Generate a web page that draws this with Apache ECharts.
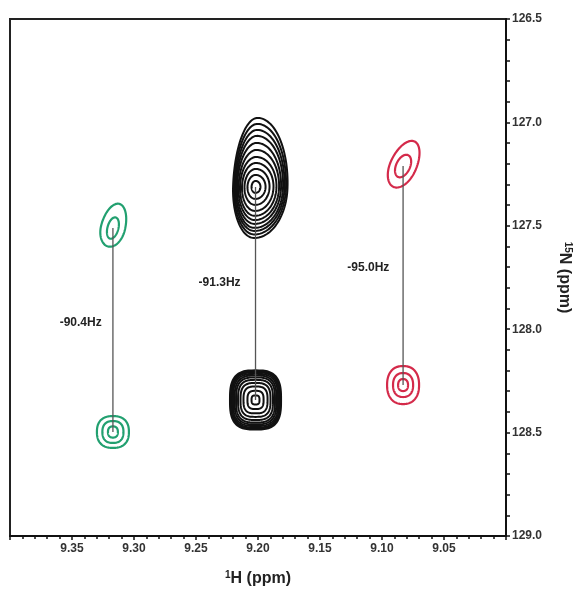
<!DOCTYPE html>
<html>
<head>
<meta charset="utf-8">
<script src="https://cdn.jsdelivr.net/npm/echarts@6/dist/echarts.min.js"></script>
<style>
  html, body { margin: 0; padding: 0; background: #fff; }
  #main { width: 587px; height: 589px; }
</style>
</head>
<body>
<div id="main"></div>
<script>
// axis ranges / ticks
const hRange = [9.00, 9.40]
const nRange = [126.5, 129.0]

// peak centres (1H ppm, 15N ppm)
const peakH = [9.317, 9.317, 9.202, 9.202, 9.083, 9.083]
const peakN = [127.511, 128.497, 127.312, 128.342, 127.211, 128.270]
const peakColor = ['green', 'green', 'black', 'black', 'red', 'red']

// contour rings per peak: [left, right, top, bottom] half widths in ppm
const peakRings = [
    [[0.0044, 0.0044, 0.053, 0.053], [0.0097, 0.0097, 0.121, 0.092]],
    [[0.0040, 0.0040, 0.027, 0.027], [0.0085, 0.0085, 0.053, 0.053], [0.0129, 0.0129, 0.077, 0.077]],
    [[0.0032, 0.0040, 0.029, 0.029], [0.0065, 0.0081, 0.058, 0.058], [0.0089, 0.0113, 0.087, 0.087],
     [0.0109, 0.0145, 0.116, 0.116], [0.0125, 0.0169, 0.145, 0.140], [0.0137, 0.0190, 0.179, 0.160],
     [0.0149, 0.0206, 0.213, 0.179], [0.0157, 0.0222, 0.247, 0.198], [0.0165, 0.0234, 0.276, 0.213],
     [0.0173, 0.0246, 0.305, 0.230], [0.0181, 0.0258, 0.334, 0.247]],
    [[0.0032, 0.0032, 0.022, 0.022], [0.0065, 0.0065, 0.044, 0.044], [0.0097, 0.0097, 0.065, 0.065],
     [0.0121, 0.0121, 0.082, 0.082], [0.0141, 0.0141, 0.097, 0.097], [0.0157, 0.0157, 0.109, 0.109],
     [0.0169, 0.0169, 0.118, 0.118], [0.0181, 0.0181, 0.126, 0.126], [0.0190, 0.0190, 0.133, 0.133],
     [0.0198, 0.0198, 0.138, 0.138], [0.0206, 0.0206, 0.143, 0.143]],
    [[0.0056, 0.0056, 0.058, 0.058], [0.0105, 0.0105, 0.131, 0.111]],
    [[0.0040, 0.0040, 0.029, 0.029], [0.0081, 0.0081, 0.058, 0.058], [0.0129, 0.0129, 0.092, 0.092]]
]

// coupling labels
const couplingText = ['-90.4Hz', '-91.3Hz', '-95.0Hz']
const couplingH = [9.343, 9.231, 9.111]
const couplingN = [127.970, 127.777, 127.704]

// shape of each peak: tilt (deg, clockwise) and squareness exponent
const peakTilt = [15, 0, 2, 0, 25, 0]
const peakSquare = [2, 2.4, 2, 3, 2, 2.3]
const colors = {green: '#22a070', black: '#111111', red: '#d42a4a'}
const font = '"Liberation Sans Narrow", "Liberation Sans", Arial, sans-serif'

let ringData = []
peakRings.forEach((rings, p) => {
    rings.forEach(r => {
        ringData.push([peakH[p], peakN[p], r[0], r[1], r[2], r[3], p])
    })
})

function renderRing(params, api) {
    let h = api.value(0), n = api.value(1), p = api.value(6)
    let c = api.coord([h, n])
    let kx = Math.abs(api.coord([h + 0.01, n])[0] - c[0]) / 0.01
    let ky = Math.abs(api.coord([h, n + 0.1])[1] - c[1]) / 0.1
    let l = api.value(2) * kx, r = api.value(3) * kx
    let t = api.value(4) * ky, b = api.value(5) * ky
    let e = 2 / peakSquare[p]
    let th = peakTilt[p] * Math.PI / 180
    let pts = []
    for (let i = 0; i < 120; i++) {
        let a = i / 120 * Math.PI * 2
        let ca = Math.cos(a), sa = Math.sin(a)
        let x = Math.sign(ca) * Math.pow(Math.abs(ca), e) * (ca >= 0 ? r : l)
        let y = Math.sign(sa) * Math.pow(Math.abs(sa), e) * (sa >= 0 ? b : t)
        pts.push([c[0] + x * Math.cos(th) - y * Math.sin(th),
                  c[1] + x * Math.sin(th) + y * Math.cos(th)])
    }
    return {
        type: 'polygon',
        shape: {points: pts},
        style: {fill: 'none', stroke: colors[peakColor[p]], lineWidth: peakColor[p] === 'black' ? 2 : 2.2}
    }
}

function renderText(params, api) {
    let c = api.coord([api.value(0), api.value(1)])
    return {
        type: 'text',
        x: c[0], y: c[1],
        style: {
            text: couplingText[params.dataIndex],
            align: 'center', verticalAlign: 'middle',
            fontSize: 12, fontWeight: 'bold', fontFamily: font, fill: '#222'
        }
    }
}

let pairLines = []
for (let i = 0; i < peakH.length; i += 2) {
    pairLines.push({
        type: 'line',
        data: [[peakH[i], peakN[i]], [peakH[i + 1], peakN[i + 1]]],
        symbol: 'none',
        z: 3,
        lineStyle: {color: '#555', width: 1.3}
    })
}

let chart = echarts.init(document.getElementById('main'))
let option = {
    animation: false,
    backgroundColor: '#fff',
    grid: {
        left: 10, right: 81, top: 19, bottom: 53,
        outerBoundsMode: 'none',
        containLabel: false,
        show: true, borderColor: '#222', borderWidth: 2
    },
    xAxis: {
        type: 'value',
        min: hRange[0], max: hRange[1], interval: 0.05,
        inverse: true,
        name: '{sup|1}{main|H (ppm)}',
        nameLocation: 'middle', nameGap: 34,
        nameTextStyle: {
            rich: {
                sup: {fontSize: 10, fontFamily: font, fontWeight: 'bold', color: '#222', verticalAlign: 'top', lineHeight: 18},
                main: {fontSize: 16, fontFamily: font, fontWeight: 'bold', color: '#222', lineHeight: 18}
            }
        },
        axisLine: {show: true, lineStyle: {color: '#111', width: 2}},
        axisTick: {show: true, inside: false, length: 4, lineStyle: {color: '#111', width: 1.5}},
        minorTick: {show: true, splitNumber: 5, length: 3, lineStyle: {color: '#111', width: 1.5}},
        splitLine: {show: false},
        axisLabel: {
            showMinLabel: false, showMaxLabel: false,
            formatter: v => v.toFixed(2),
            fontSize: 12, fontWeight: 'bold', fontFamily: font, color: '#333', margin: 7
        }
    },
    yAxis: {
        type: 'value',
        position: 'right',
        min: nRange[0], max: nRange[1], interval: 0.5,
        inverse: true,
        name: '{sup|15}{main|N (ppm)}',
        nameLocation: 'middle', nameGap: 49, nameRotate: -90,
        nameTextStyle: {
            rich: {
                sup: {fontSize: 10, fontFamily: font, fontWeight: 'bold', color: '#222', verticalAlign: 'top', lineHeight: 18},
                main: {fontSize: 16, fontFamily: font, fontWeight: 'bold', color: '#222', lineHeight: 18}
            }
        },
        axisLine: {show: true, lineStyle: {color: '#111', width: 2}},
        axisTick: {show: true, inside: false, length: 4, lineStyle: {color: '#111', width: 1.5}},
        minorTick: {show: true, splitNumber: 5, length: 4, lineStyle: {color: '#111', width: 1.5}},
        splitLine: {show: false},
        axisLabel: {
            formatter: v => v.toFixed(1),
            fontSize: 12, fontWeight: 'bold', fontFamily: font, color: '#333', margin: 6
        }
    },
    series: [
        {
            type: 'custom',
            renderItem: renderRing,
            data: ringData,
            clip: true,
            z: 2,
            silent: true
        },
        ...pairLines,
        {
            type: 'custom',
            renderItem: renderText,
            data: couplingH.map((h, i) => [h, couplingN[i]]),
            z: 4,
            silent: true
        }
    ]
}
chart.setOption(option)
</script>
</body>
</html>
